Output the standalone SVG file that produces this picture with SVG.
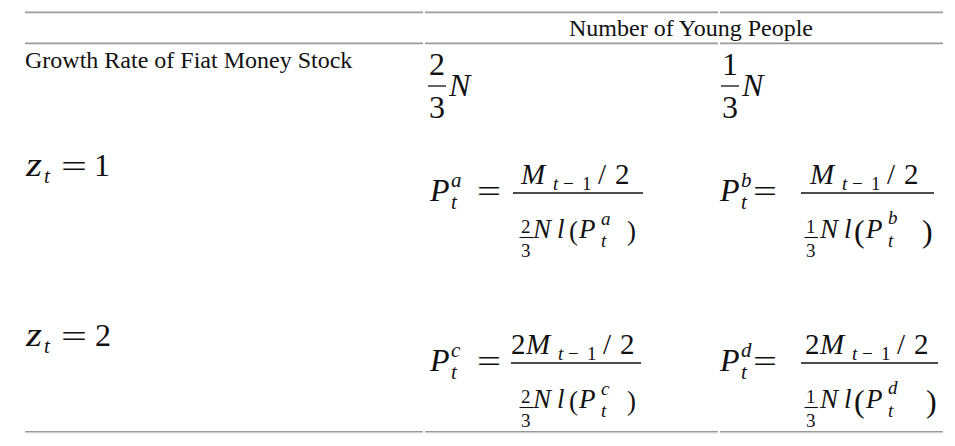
<svg xmlns="http://www.w3.org/2000/svg" width="955" height="446" viewBox="0 0 955 446">
<style>
text{fill:#111}
.i{font-style:italic}
.s34{font-size:34px}.s32{font-size:32px}.s29{font-size:29px}.s27{font-size:27px}.s24{font-size:24px}.s21{font-size:21px}.s19{font-size:19px}
.bar{stroke:#111;stroke-width:1.3}
.sbar{stroke:#111;stroke-width:1.1}
.dk{fill:#9a9a9a}.lt{fill:#e6e6e6}
</style>
<defs>
<g id="rule">
<rect class="dk" x="25" y="0" width="398" height="1.6"/>
<rect class="lt" x="25" y="1.6" width="398" height="1"/>
<rect class="dk" x="425" y="0" width="293" height="1.6"/>
<rect class="lt" x="425" y="1.6" width="293" height="1"/>
<rect class="dk" x="720" y="0" width="223" height="1.6"/>
<rect class="lt" x="720" y="1.6" width="223" height="1"/>
</g>
</defs>
<g id="table-rules">
<use href="#rule" y="11.5"/>
<use href="#rule" y="42.5"/>
<use href="#rule" y="431"/>
</g>
<g font-family="Liberation Serif, DejaVu Serif, serif">
<g id="header-young">
<text class="s24" x="691" y="36" text-anchor="middle">Number of Young People</text>
</g>
<g id="header-growth">
<text class="s24" x="25" y="68">Growth Rate of Fiat Money Stock</text>
</g>
<g id="header-twothirds">
<text class="s32" x="429" y="75">2</text>
<line class="bar" x1="428" y1="86" x2="446" y2="86"/>
<text class="s32" x="429" y="118">3</text>
<text class="s32 i" x="449" y="96">N</text>
</g>
<g id="header-onethird">
<text class="s32" x="722" y="75">1</text>
<line class="bar" x1="721" y1="86" x2="739" y2="86"/>
<text class="s32" x="722" y="118">3</text>
<text class="s32 i" x="742" y="96">N</text>
</g>
<g id="z1">
<text class="s34 i" x="26" y="176" textLength="16" lengthAdjust="spacingAndGlyphs">z</text>
<text class="s21 i" x="44" y="183">t</text>
<text class="s32" x="61" y="177" textLength="26" lengthAdjust="spacingAndGlyphs">=</text>
<text class="s32" x="94" y="176">1</text>
</g>
<g id="z2">
<text class="s34 i" x="26" y="346" textLength="16" lengthAdjust="spacingAndGlyphs">z</text>
<text class="s21 i" x="44" y="353">t</text>
<text class="s32" x="61" y="347" textLength="26" lengthAdjust="spacingAndGlyphs">=</text>
<text class="s32" x="95" y="346">2</text>
</g>
<g id="cell-a">
<text class="s32 i" x="430" y="201">P</text>
<text class="s21 i" x="451" y="187">a</text>
<text class="s21 i" x="451" y="209">t</text>
<text class="s32" x="477" y="202" textLength="24" lengthAdjust="spacingAndGlyphs">=</text>
<line class="bar" x1="513" y1="193" x2="643" y2="193"/>
<text class="s29 i" x="521" y="184">M</text>
<text class="s19 i" x="553" y="190">t</text>
<text class="s19" x="563" y="190">−</text>
<text class="s19" x="582" y="190">1</text>
<text class="s29" x="598" y="184">/</text>
<text class="s29" x="615" y="184">2</text>
<text class="s19" x="521" y="233">2</text>
<line class="sbar" x1="519.5" y1="237.5" x2="533" y2="237.5"/>
<text class="s19" x="521" y="257">3</text>
<text class="s27 i" x="533" y="238">N</text>
<text class="s27 i" x="557" y="238">l</text>
<text class="s27" x="569" y="240">(</text>
<text class="s27 i" x="579" y="238">P</text>
<text class="s19 i" x="601" y="225">a</text>
<text class="s19 i" x="601" y="247">t</text>
<text class="s27" x="627" y="240">)</text>
</g>
<g id="cell-b">
<text class="s32 i" x="720" y="201">P</text>
<text class="s21 i" x="741" y="187">b</text>
<text class="s21 i" x="741" y="209">t</text>
<text class="s32" x="753" y="202" textLength="24" lengthAdjust="spacingAndGlyphs">=</text>
<line class="bar" x1="801" y1="193" x2="934" y2="193"/>
<text class="s29 i" x="810" y="184">M</text>
<text class="s19 i" x="842" y="190">t</text>
<text class="s19" x="852" y="190">−</text>
<text class="s19" x="871" y="190">1</text>
<text class="s29" x="887" y="184">/</text>
<text class="s29" x="904" y="184">2</text>
<text class="s19" x="806" y="233">1</text>
<line class="sbar" x1="804.5" y1="237.5" x2="818" y2="237.5"/>
<text class="s19" x="806" y="257">3</text>
<text class="s27 i" x="820" y="238">N</text>
<text class="s27 i" x="844" y="238">l</text>
<text class="s32" x="854" y="242">(</text>
<text class="s27 i" x="866" y="238">P</text>
<text class="s19 i" x="888" y="224">b</text>
<text class="s19 i" x="888" y="247">t</text>
<text class="s32" x="922" y="242">)</text>
</g>
<g id="cell-c">
<text class="s32 i" x="430" y="371">P</text>
<text class="s21 i" x="451" y="357">c</text>
<text class="s21 i" x="451" y="379">t</text>
<text class="s32" x="477" y="372" textLength="24" lengthAdjust="spacingAndGlyphs">=</text>
<line class="bar" x1="511" y1="363" x2="641" y2="363"/>
<text class="s29" x="511" y="354">2</text>
<text class="s29 i" x="526" y="354">M</text>
<text class="s19 i" x="558" y="360">t</text>
<text class="s19" x="568" y="360">−</text>
<text class="s19" x="587" y="360">1</text>
<text class="s29" x="603" y="354">/</text>
<text class="s29" x="620" y="354">2</text>
<text class="s19" x="521" y="403">2</text>
<line class="sbar" x1="519.5" y1="407.5" x2="533" y2="407.5"/>
<text class="s19" x="521" y="427">3</text>
<text class="s27 i" x="533" y="408">N</text>
<text class="s27 i" x="557" y="408">l</text>
<text class="s27" x="569" y="410">(</text>
<text class="s27 i" x="579" y="408">P</text>
<text class="s19 i" x="601" y="395">c</text>
<text class="s19 i" x="601" y="417">t</text>
<text class="s27" x="627" y="410">)</text>
</g>
<g id="cell-d">
<text class="s32 i" x="720" y="371">P</text>
<text class="s21 i" x="741" y="357">d</text>
<text class="s21 i" x="741" y="379">t</text>
<text class="s32" x="753" y="372" textLength="24" lengthAdjust="spacingAndGlyphs">=</text>
<line class="bar" x1="801" y1="363" x2="938" y2="363"/>
<text class="s29" x="805" y="354">2</text>
<text class="s29 i" x="820" y="354">M</text>
<text class="s19 i" x="852" y="360">t</text>
<text class="s19" x="862" y="360">−</text>
<text class="s19" x="881" y="360">1</text>
<text class="s29" x="897" y="354">/</text>
<text class="s29" x="914" y="354">2</text>
<text class="s19" x="806" y="403">1</text>
<line class="sbar" x1="804.5" y1="407.5" x2="818" y2="407.5"/>
<text class="s19" x="806" y="427">3</text>
<text class="s27 i" x="820" y="408">N</text>
<text class="s27 i" x="844" y="408">l</text>
<text class="s32" x="854" y="412">(</text>
<text class="s27 i" x="866" y="408">P</text>
<text class="s19 i" x="888" y="394">d</text>
<text class="s19 i" x="888" y="417">t</text>
<text class="s32" x="926" y="412">)</text>
</g>
</g>
</svg>
